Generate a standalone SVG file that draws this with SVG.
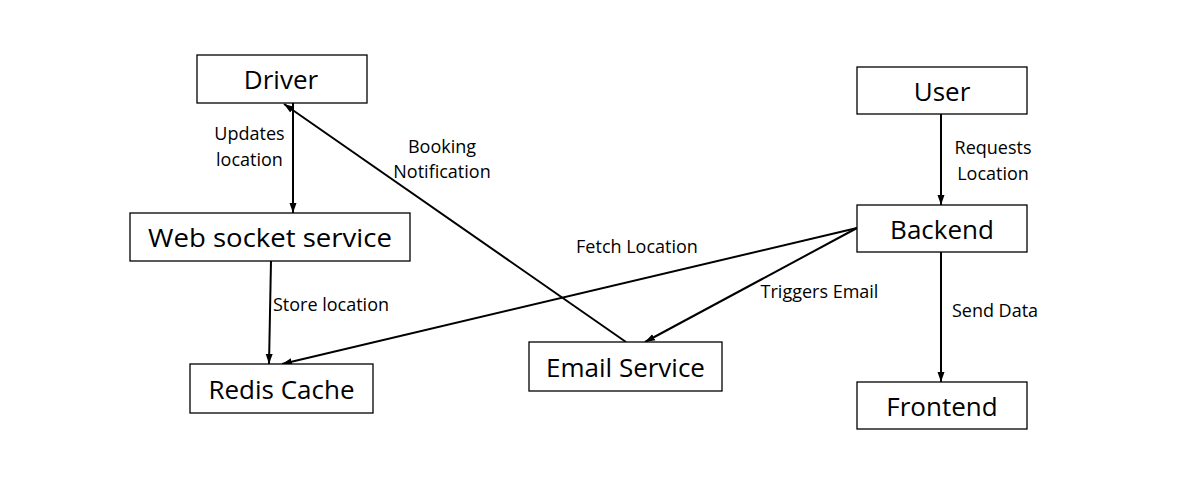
<svg xmlns="http://www.w3.org/2000/svg" width="1203" height="486" viewBox="0 0 1203 486">
<style>
.box{fill:#fff;stroke:#000;stroke-width:1.3}
.nt{font-family:"Open Sans","Liberation Sans",sans-serif;font-size:26px;fill:#000;text-anchor:middle}
.lt{font-family:"Open Sans","Liberation Sans",sans-serif;font-size:18px;fill:#000;text-anchor:middle}
.edge{stroke:#000;stroke-width:2;fill:none;marker-end:url(#arr)}
</style>
<defs>
<marker id="arr" markerUnits="userSpaceOnUse" markerWidth="10" markerHeight="8" refX="10" refY="4" orient="auto">
<path d="M0,0.5 L10,4 L0,7.5 z" fill="#000"/>
</marker>
</defs>
<rect width="1203" height="486" fill="#fff"/>
<g id="connectors">
<line class="edge" x1="293" y1="103" x2="293" y2="213"/>
<line class="edge" x1="271" y1="261" x2="269" y2="364"/>
<line class="edge" x1="626" y1="342" x2="284" y2="104"/>
<line class="edge" x1="857" y1="228" x2="282" y2="364"/>
<line class="edge" x1="857" y1="228" x2="645" y2="342"/>
<line class="edge" x1="941" y1="114" x2="941" y2="205"/>
<line class="edge" x1="941" y1="252" x2="941" y2="382"/>
<text class="lt" x="249.5" y="140">Updates</text>
<text class="lt" x="249.5" y="166">location</text>
<text class="lt" x="442" y="153">Booking</text>
<text class="lt" x="442" y="178">Notification</text>
<text class="lt" x="993" y="154">Requests</text>
<text class="lt" x="993" y="180">Location</text>
<text class="lt" x="637" y="253">Fetch Location</text>
<text class="lt" x="331" y="311">Store location</text>
<text class="lt" x="819.5" y="298">Triggers Email</text>
<text class="lt" x="995" y="317">Send Data</text>
</g>
<g id="driver"><rect class="box" x="197" y="55" width="170" height="48"/><text class="nt" x="281" y="89">Driver</text></g>
<g id="user"><rect class="box" x="857" y="67" width="170" height="47"/><text class="nt" x="942" y="101">User</text></g>
<g id="websocket"><rect class="box" x="130" y="213" width="280" height="48"/><text class="nt" x="270" y="247" textLength="244" lengthAdjust="spacingAndGlyphs">Web socket service</text></g>
<g id="backend"><rect class="box" x="857" y="205" width="170" height="47"/><text class="nt" x="942" y="239">Backend</text></g>
<g id="redis"><rect class="box" x="190" y="364" width="183" height="49"/><text class="nt" x="281.5" y="399">Redis Cache</text></g>
<g id="email"><rect class="box" x="529" y="342" width="193" height="49"/><text class="nt" x="625.5" y="377">Email Service</text></g>
<g id="frontend"><rect class="box" x="857" y="382" width="170" height="47"/><text class="nt" x="942" y="416">Frontend</text></g>
</svg>
